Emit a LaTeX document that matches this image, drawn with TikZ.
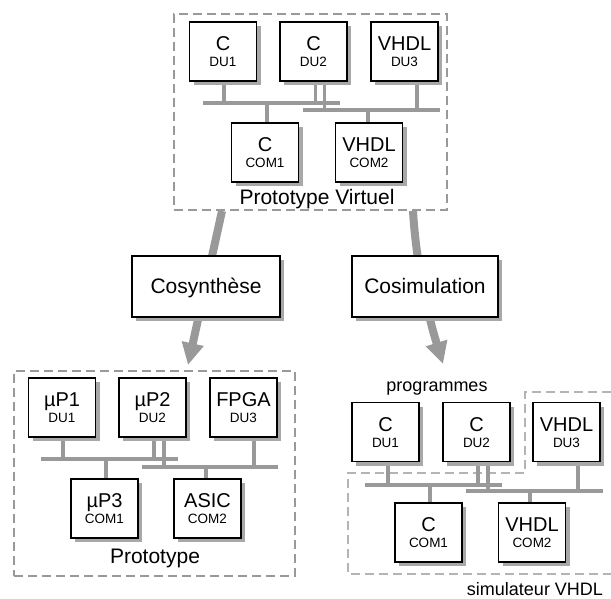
\documentclass[tikz,border=0pt]{standalone}
\usepackage{fontspec}
\setmainfont{Liberation Sans}
\usetikzlibrary{shadows,arrows.meta,calc}
\pgfdeclarelayer{bg}
\pgfsetlayers{bg,main}
\definecolor{framegray}{HTML}{999999}
\definecolor{lightframe}{HTML}{B4B4B4}
\definecolor{busgray}{HTML}{999999}
\definecolor{shgray}{HTML}{A8A8A8}
\definecolor{arrowgray}{HTML}{999999}
\tikzset{
 unit/.style={draw=black, line width=1.1pt, fill=white, minimum width=67pt, minimum height=59pt, inner sep=0pt,
   drop shadow={shadow xshift=4pt, shadow yshift=-4pt, fill=shgray, opacity=1}},
 bigbox/.style={unit, minimum width=147pt, minimum height=61pt},
 maint/.style={inner sep=0pt, anchor=base, font=\fontsize{20}{24}\selectfont},
 subt/.style={inner sep=0pt, anchor=base, font=\fontsize{13.5}{16}\selectfont},
 titlet/.style={inner sep=0pt, anchor=base, font=\fontsize{21}{25}\selectfont},
 labt/.style={inner sep=0pt, anchor=base, font=\fontsize{18}{22}\selectfont},
 dframe/.style={draw=framegray, line width=2pt, dash pattern=on 9pt off 5pt, inner sep=0pt},
 bus/.style={draw=busgray, line width=4pt},
 conn/.style={draw=busgray, line width=3.5pt},
 bigarrow/.style={draw=arrowgray, line width=8pt, -{Triangle[width=21pt,length=22pt]}},
}
\newcommand\dubox[5]{%
 \node[unit] (#1) at (#2,#3) {};
 \node[maint] (#1m) at ($(#1.center)+(0,-1)$) {#4};
 \node[subt] (#1s) at ($(#1.center)+(0,15.3)$) {#5};
}
\begin{document}
\begin{tikzpicture}[x=1pt,y=-1pt]
\useasboundingbox (0,0) rectangle (611,599);

% ---------- top : Prototype Virtuel ----------
\node[dframe, minimum width=273pt, minimum height=196pt] (vframe) at (310.5,112) {};
\dubox{tDU1}{223}{51.5}{C}{DU1}
\dubox{tDU2}{313.5}{51.5}{C}{DU2}
\dubox{tDU3}{404.5}{51.5}{VHDL}{DU3}
\dubox{tCOM1}{265}{152.5}{C}{COM1}
\dubox{tCOM2}{369}{152.5}{VHDL}{COM2}
\node[titlet] (vlab) at (317,205) {Prototype Virtuel};
\coordinate (tb1a) at (203,103); \coordinate (tb1b) at (340,103);
\coordinate (tb2a) at (303,110); \coordinate (tb2b) at (440,110);

% ---------- middle ----------
\node[bigbox, minimum width=148pt] (cosyn) at (206,286.5) {};
\node[titlet] (cosynt) at ($(cosyn.center)+(0,7)$) {Cosynthèse};
\node[bigbox, minimum width=146pt] (cosim) at (425,286.5) {};
\node[titlet] (cosimt) at ($(cosim.center)+(0,7)$) {Cosimulation};
\coordinate (a1s) at (222,211); \coordinate (a1e) at (188,365);
\coordinate (a2s) at (413,211); \coordinate (a2e) at (443,364);

% ---------- bottom left : Prototype ----------
\node[dframe, minimum width=281pt, minimum height=205pt] (pframe) at (154.5,473.5) {};
\dubox{pDU1}{62}{407.5}{µP1}{DU1}
\dubox{pDU2}{152.5}{407.5}{µP2}{DU2}
\dubox{pDU3}{243.5}{407.5}{FPGA}{DU3}
\dubox{pCOM1}{104.5}{508.5}{µP3}{COM1}
\dubox{pCOM2}{207.5}{508.5}{ASIC}{COM2}
\node[titlet] (plab) at (155,563) {Prototype};
\coordinate (pb1a) at (41,459); \coordinate (pb1b) at (178,459);
\coordinate (pb2a) at (142,467); \coordinate (pb2b) at (278,467);

% ---------- bottom right : cosimulation ----------
\node[labt] (proglab) at (437,391) {programmes};
\dubox{sDU1}{385.5}{432}{C}{DU1}
\dubox{sDU2}{476.5}{432}{C}{DU2}
\dubox{sDU3}{566.5}{432}{VHDL}{DU3}
\dubox{sCOM1}{428.5}{532.5}{C}{COM1}
\dubox{sCOM2}{532}{532.5}{VHDL}{COM2}
\node[labt] (simlab) at (535,595) {simulateur VHDL};
\coordinate (sb1a) at (365,485); \coordinate (sb1b) at (502,485);
\coordinate (sb2a) at (466,491); \coordinate (sb2b) at (603,491);

\begin{pgfonlayer}{bg}
 \draw[dframe, draw=lightframe] (611,392) -- (525,392) -- (525,473) -- (348,473) -- (348,574) -- (611,574);
 \draw[bigarrow] (a1s) -- (a1e);
 \draw[bigarrow] (a2s) .. controls (416,262) and (427,312) .. (a2e);
 % top buses
 \draw[bus] (tb1a) -- (tb1b);
 \draw[bus] (tb2a) -- (tb2b);
 \draw[conn] ([xshift=1pt]tDU1.south) -- ([xshift=1pt]tDU1.south |- tb1a);
 \draw[conn] ([xshift=2pt]tDU2.south) -- ([xshift=2pt]tDU2.south |- tb1a);
 \draw[conn] ([xshift=11pt]tDU2.south) -- ([xshift=11pt]tDU2.south |- tb2a);
 \draw[conn] ([xshift=12.5pt]tDU3.south) -- ([xshift=12.5pt]tDU3.south |- tb2a);
 \draw[conn] ([xshift=2pt]tCOM1.north) -- ([xshift=2pt]tCOM1.north |- tb1a);
 \draw[conn] ([xshift=-1pt]tCOM2.north) -- ([xshift=-1pt]tCOM2.north |- tb2a);
 % bottom-left buses
 \draw[bus] (pb1a) -- (pb1b);
 \draw[bus] (pb2a) -- (pb2b);
 \draw[conn] ([xshift=1pt]pDU1.south) -- ([xshift=1pt]pDU1.south |- pb1a);
 \draw[conn] ([xshift=1.5pt]pDU2.south) -- ([xshift=1.5pt]pDU2.south |- pb1a);
 \draw[conn] ([xshift=11.5pt]pDU2.south) -- ([xshift=11.5pt]pDU2.south |- pb2a);
 \draw[conn] ([xshift=10.5pt]pDU3.south) -- ([xshift=10.5pt]pDU3.south |- pb2a);
 \draw[conn] ([xshift=1.5pt]pCOM1.north) -- ([xshift=1.5pt]pCOM1.north |- pb1a);
 \draw[conn] ([xshift=-1.5pt]pCOM2.north) -- ([xshift=-1.5pt]pCOM2.north |- pb2a);
 % bottom-right buses
 \draw[bus] (sb1a) -- (sb1b);
 \draw[bus] (sb2a) -- (sb2b);
 \draw[conn] ([xshift=2.5pt]sDU1.south) -- ([xshift=2.5pt]sDU1.south |- sb1a);
 \draw[conn] ([xshift=1.5pt]sDU2.south) -- ([xshift=1.5pt]sDU2.south |- sb1a);
 \draw[conn] ([xshift=11.5pt]sDU2.south) -- ([xshift=11.5pt]sDU2.south |- sb2a);
 \draw[conn] ([xshift=11.5pt]sDU3.south) -- ([xshift=11.5pt]sDU3.south |- sb2a);
 \draw[conn] ([xshift=1.5pt]sCOM1.north) -- ([xshift=1.5pt]sCOM1.north |- sb1a);
 \draw[conn] ([xshift=-2pt]sCOM2.north) -- ([xshift=-2pt]sCOM2.north |- sb2a);
\end{pgfonlayer}
\end{tikzpicture}
\end{document}
